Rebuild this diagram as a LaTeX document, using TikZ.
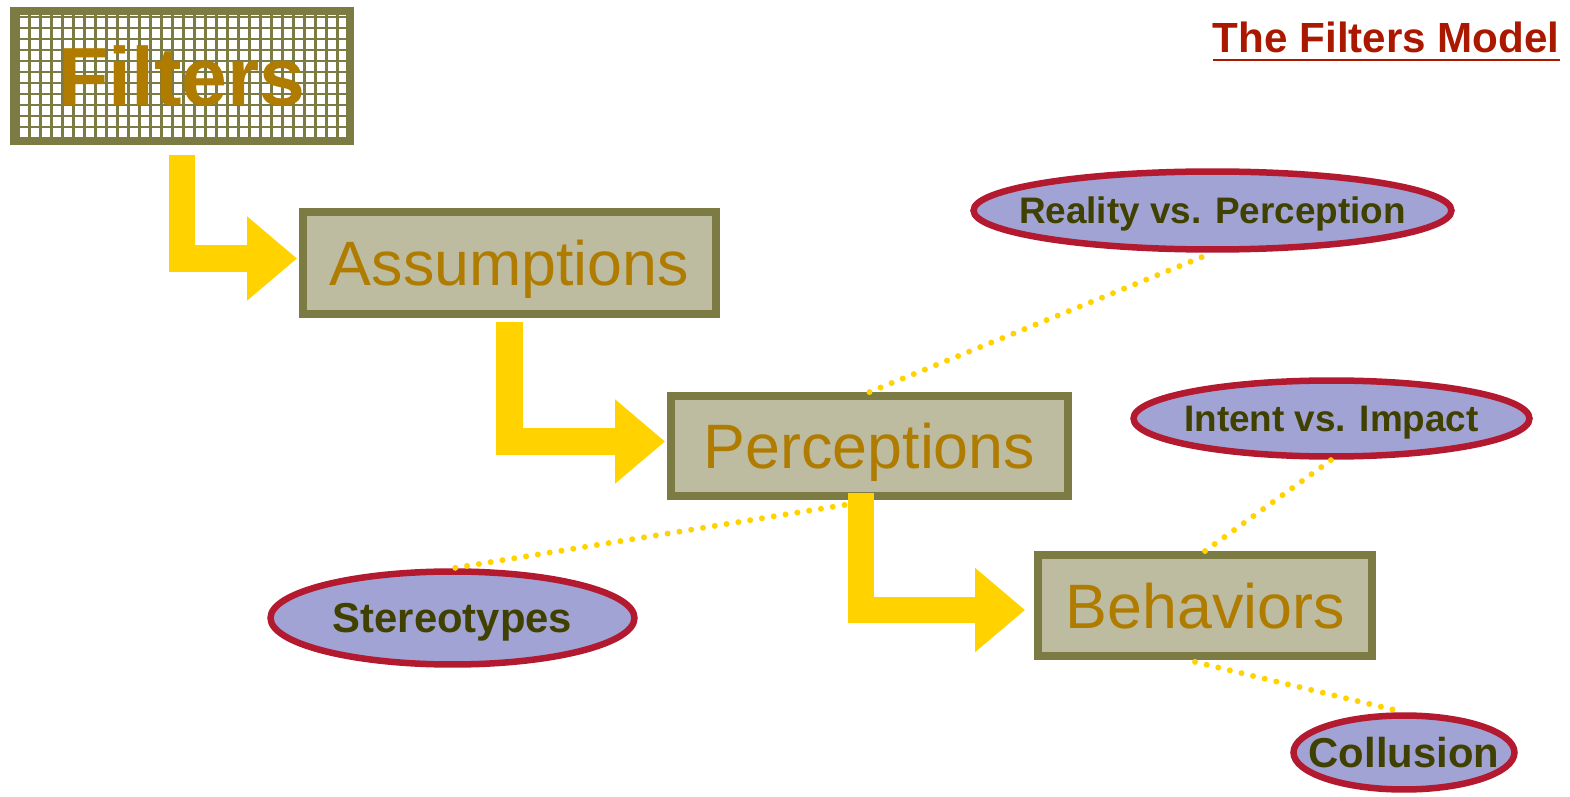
\documentclass[tikz,border=0pt]{standalone}
\usepackage{fontspec}
\setmainfont{Liberation Sans}
\usetikzlibrary{shapes.geometric,arrows.meta,calc}
\definecolor{boxolive}{HTML}{7B7B43}
\definecolor{boxfill}{HTML}{BDBBA0}
\definecolor{bronze}{HTML}{B07C00}
\definecolor{gold}{HTML}{FFD200}
\definecolor{crimson}{HTML}{B3192F}
\definecolor{lavender}{HTML}{A0A3D4}
\definecolor{darkolive}{HTML}{404000}
\definecolor{titlered}{HTML}{AA1800}
\tikzset{
  stage/.style={draw=boxolive, fill=boxfill, line width=4.5pt, text=bronze,
    font=\fontsize{35.7}{40}\selectfont, inner sep=0pt, text depth=0pt},
  bubble/.style={ellipse, draw=crimson, fill=lavender, line width=3.7pt, inner sep=0pt},
  bubbletext/.style={text=darkolive, font=\bfseries\fontsize{21}{24}\selectfont, inner sep=0pt, text depth=0pt},
  bentarrow/.style={draw=gold, line width=15.3pt, -{Triangle[length=1cm,width=1.62cm]}},
  dotline/.style={draw=gold, line width=3.4pt, line cap=round, dash pattern=on 0pt off 6.8pt},
  gridline/.style={boxolive, line width=1.4pt},
}
\begin{document}
\begin{tikzpicture}[x=0.02cm, y=-0.02cm]
  \useasboundingbox (0,0) rectangle (1570,797);
  \fill[white] (14,11) rectangle (350,141);
  \foreach \gx in {18.5,29.5,...,346}
    \draw[gridline] (\gx,14) -- (\gx,138);
  \foreach \gy in {17,28,...,138}
    \draw[gridline] (14,\gy) -- (350,\gy);
  \node[draw=boxolive, line width=4.5pt, minimum width=6.72cm, minimum height=2.6cm,
    text=bronze, font=\bfseries\fontsize{47}{50}\selectfont, text depth=0pt]
    (filters) at (182,76) {Filters};
  \node[stage, minimum width=8.26cm, minimum height=2.04cm] (assumptions) at (509.5,263) {Assumptions};
  \node[stage, minimum width=7.94cm, minimum height=2cm] (perceptions) at (869.5,446) {Perceptions};
  \node[stage, minimum width=6.68cm, minimum height=2.02cm] (behaviors) at (1205,605.5) {Behaviors};

  \node[bubble, minimum width=9.56cm, minimum height=1.56cm] (reality) at (1212.5,210.5) {};
  \node[bubbletext] at (reality) {Reality vs. Perception};
  \node[bubble, minimum width=7.92cm, minimum height=1.52cm] (intent) at (1331.5,418.5) {};
  \node[bubbletext] at (intent) {Intent vs. Impact};
  \node[bubble, minimum width=7.28cm, minimum height=1.86cm] (stereotypes) at (452.5,618) {};
  \node[bubbletext, font=\bfseries\fontsize{23.8}{26}\selectfont] at (stereotypes) {Stereotypes};
  \node[bubble, minimum width=4.42cm, minimum height=1.48cm] (collusion) at (1404,752.5) {};
  \node[bubbletext, font=\bfseries\fontsize{23.8}{26}\selectfont] at (collusion) {Collusion};

  \draw[bentarrow] ([yshift=-0.2cm]filters.south) |- ($(assumptions.west)+(-2,-4.5)$);
  \draw[bentarrow] ([yshift=-0.08cm]assumptions.south) |- ($(perceptions.west)+(-2,-4.5)$);
  \draw[bentarrow] ([xshift=-0.17cm,yshift=0.14cm]perceptions.south) |- ($(behaviors.west)+(-9,4.5)$);

  \draw[dotline, shorten >=0.16cm] (perceptions.north) -- (reality.south);
  \draw[dotline] (behaviors.north) -- (intent.south);
  \draw[dotline] ($(perceptions.south)+(-25,5)$) -- (stereotypes.north);
  \draw[dotline] ($(behaviors.south)+(-10,2)$) -- (collusion.north);

  \node[text=titlered, font=\bfseries\fontsize{24}{27}\selectfont, inner sep=0pt, anchor=base east]
    (title) at (1560,53) {The Filters Model};
  \draw[titlered, line width=1.7pt] ([yshift=-0.14cm]title.base west) -- ([yshift=-0.14cm]title.base east);
\end{tikzpicture}
\end{document}
